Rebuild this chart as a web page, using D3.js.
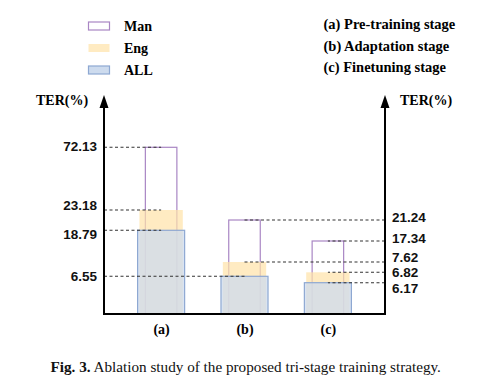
<!DOCTYPE html>
<html>
<head>
<meta charset="utf-8">
<script src="https://cdn.jsdelivr.net/npm/d3@7"></script>
<style>
  body { margin: 0; background: #fff; }
</style>
</head>
<body>
<div id="chart"></div>
<script>
const stages = ["(a)", "(b)", "(c)"]
const stageNames = ["Pre-training stage", "Adaptation stage", "Finetuning stage"]
const seriesNames = ["Man", "Eng", "ALL"]
const manTER = [72.13, 21.24, 17.34]
const engTER = [23.18, 7.62, 6.82]
const allTER = [18.79, 6.55, 6.17]
// which axis each value is read against
const manSide = ["left", "right", "right"]
const engSide = ["left", "right", "right"]
const allSide = ["left", "left", "right"]

const width = 504
const height = 390
const axisLeft = 104
const axisRight = 385
const baseY = 314
const topY = 95

const colors = {
  Man: "#a986c4",
  EngFill: "#ffe2a8",
  AllFill: "#cddbee",
  AllStroke: "#8ea8d2"
}

const svg = d3.select("#chart")
  .append("svg")
  .attr("width", width)
  .attr("height", height)

// the figure's value axis is schematic, not linear: map each value to its spot
const allValues = [0, ...manTER, ...engTER, ...allTER].sort((a, b) => a - b)
const yScale = d3.scaleLinear()
  .domain(allValues)
  .range([314, 282.7, 276.3, 272.3, 262, 241, 230.3, 220, 210, 147.3])

const xScale = d3.scalePoint()
  .domain(stages)
  .range([axisLeft, axisRight])
  .padding(0.685)

const step = xScale.step()
const barW = { Man: step * 0.378, Eng: step * 0.52, ALL: step * 0.564 }

const rows = stages.map((s, i) => ({
  stage: s,
  Man: manTER[i], Eng: engTER[i], ALL: allTER[i],
  side: { Man: manSide[i], Eng: engSide[i], ALL: allSide[i] }
}))

const plot = svg.append("g")

// Man outline
plot.selectAll("rect.man")
  .data(rows)
  .join("rect")
  .attr("class", "man")
  .attr("x", d => xScale(d.stage) - barW.Man / 2)
  .attr("y", d => yScale(d.Man))
  .attr("width", barW.Man)
  .attr("height", d => baseY - yScale(d.Man))
  .attr("fill", "none")
  .attr("stroke", colors.Man)
  .attr("stroke-width", 1.2)

// Eng
plot.selectAll("rect.eng")
  .data(rows)
  .join("rect")
  .attr("class", "eng")
  .attr("x", d => xScale(d.stage) - barW.Eng / 2)
  .attr("y", d => yScale(d.Eng))
  .attr("width", barW.Eng)
  .attr("height", d => baseY - yScale(d.Eng))
  .attr("fill", colors.EngFill)
  .attr("fill-opacity", 0.7)

// ALL
plot.selectAll("rect.all")
  .data(rows)
  .join("rect")
  .attr("class", "all")
  .attr("x", d => xScale(d.stage) - barW.ALL / 2)
  .attr("y", d => yScale(d.ALL))
  .attr("width", barW.ALL)
  .attr("height", d => baseY - yScale(d.ALL))
  .attr("fill", colors.AllFill)
  .attr("fill-opacity", 0.75)
  .attr("stroke", colors.AllStroke)
  .attr("stroke-width", 1.2)

// dashed guides + value labels
const guides = []
rows.forEach(r => {
  seriesNames.forEach(k => guides.push({ stage: r.stage, value: r[k], side: r.side[k] }))
})

plot.selectAll("line.guide")
  .data(guides)
  .join("line")
  .attr("class", "guide")
  .attr("x1", d => d.side === "left" ? axisLeft : axisRight)
  .attr("x2", d => xScale(d.stage))
  .attr("y1", d => yScale(d.value))
  .attr("y2", d => yScale(d.value))
  .attr("stroke", "#333")
  .attr("stroke-width", 1.1)
  .attr("stroke-dasharray", "3,2.5")

// small nudges so that close labels do not collide
const nudge = { "72.13": -1.6, "23.18": -5, "18.79": 3.7, "6.55": -0.6,
  "21.24": -2.7, "17.34": -3, "7.62": -5, "6.82": 0.3, "6.17": 5.7 }

plot.selectAll("text.val")
  .data(guides)
  .join("text")
  .attr("class", "val")
  .attr("x", d => d.side === "left" ? axisLeft - 7 : axisRight + 7)
  .attr("y", d => yScale(d.value) + (nudge[d.value.toFixed(2)] || 0))
  .attr("dy", "0.36em")
  .attr("text-anchor", d => d.side === "left" ? "end" : "start")
  .attr("font-family", "Liberation Sans, Arial, sans-serif")
  .attr("font-weight", "bold")
  .attr("font-size", 13.5)
  .attr("fill", "#111")
  .text(d => d.value.toFixed(2))

// axes with arrows
const axes = svg.append("g")
axes.append("path")
  .attr("d", `M${axisLeft},${topY + 10} V${baseY} H${axisRight} V${topY + 10}`)
  .attr("fill", "none")
  .attr("stroke", "#000")
  .attr("stroke-width", 2)
;[axisLeft, axisRight].forEach(x => {
  axes.append("path")
    .attr("d", `M${x - 4.5},${topY + 13} L${x},${topY} L${x + 4.5},${topY + 13} Z`)
    .attr("fill", "#000")
})

const serif = "'Liberation Serif', 'Times New Roman', serif"

svg.append("text")
  .attr("x", 36).attr("y", 105)
  .attr("font-family", serif).attr("font-weight", "bold").attr("font-size", 14)
  .text("TER(%)")
svg.append("text")
  .attr("x", 400).attr("y", 105)
  .attr("font-family", serif).attr("font-weight", "bold").attr("font-size", 14)
  .text("TER(%)")

// x tick labels
const xAxis = d3.axisBottom(xScale).tickSize(0).tickPadding(10)
svg.append("g")
  .attr("transform", `translate(0, ${baseY})`)
  .call(xAxis)
  .call(g => g.select(".domain").remove())
  .selectAll("text")
  .attr("font-family", serif)
  .attr("font-weight", "bold")
  .attr("font-size", 14)
  .attr("fill", "#000")

// legend
const legend = svg.append("g")
seriesNames.forEach((k, i) => {
  const y = 22 + i * 22
  const sw = legend.append("rect")
    .attr("x", 88.5).attr("y", y).attr("width", 21).attr("height", 8)
  if (k === "Man") sw.attr("fill", "none").attr("stroke", colors.Man).attr("stroke-width", 1.2)
  if (k === "Eng") sw.attr("fill", colors.EngFill).attr("fill-opacity", 0.7)
  if (k === "ALL") sw.attr("fill", colors.AllFill).attr("stroke", colors.AllStroke).attr("stroke-width", 1.2)
  legend.append("text")
    .attr("x", 124).attr("y", y + 9)
    .attr("font-family", serif).attr("font-weight", "bold").attr("font-size", 14)
    .text(k)
})

stages.forEach((s, i) => {
  legend.append("text")
    .attr("x", 323.5).attr("y", 29 + i * 21.5)
    .attr("font-family", serif).attr("font-weight", "bold").attr("font-size", 14.5)
    .text(`${s} ${stageNames[i]}`)
})

// caption
const cap = svg.append("text")
  .attr("x", 245.7).attr("y", 372)
  .attr("text-anchor", "middle")
  .attr("font-family", serif)
  .attr("font-size", 15.2)
  .attr("fill", "#111")
cap.append("tspan").attr("font-weight", "bold").text("Fig. 3.")
cap.append("tspan").text(" Ablation study of the proposed tri-stage training strategy.")
</script>
</body>
</html>
